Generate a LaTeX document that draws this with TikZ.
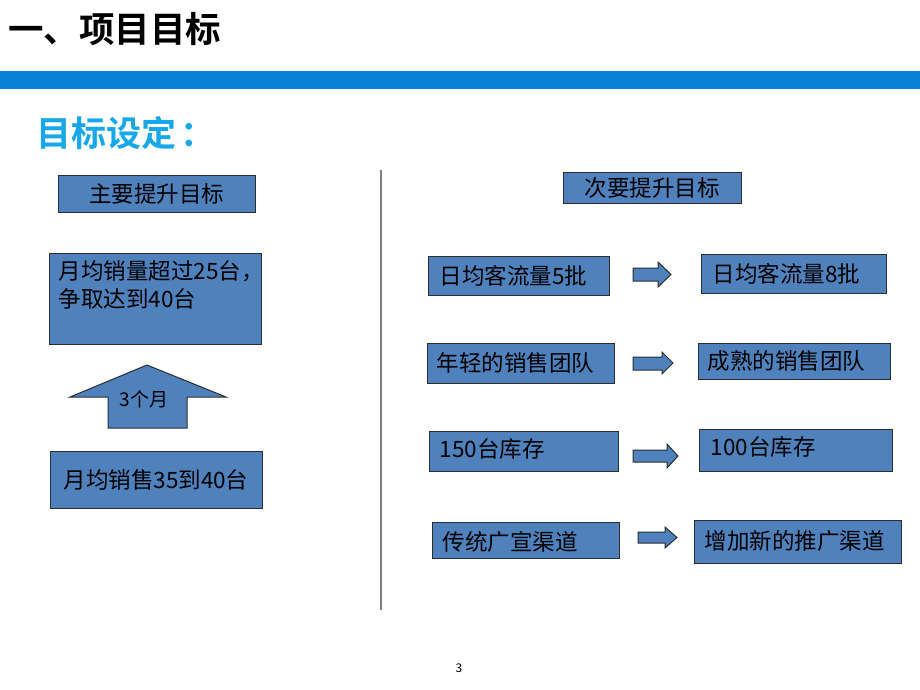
\documentclass[tikz,border=0pt]{standalone}
\usepackage{fontspec}
\newfontfamily\cjk{Noto Sans CJK SC}
\newfontfamily\cjkb{Noto Sans CJK SC Bold}
\definecolor{boxblue}{RGB}{79,129,189}
\definecolor{barblue}{RGB}{8,130,214}
\definecolor{subcyan}{RGB}{22,168,232}
\definecolor{edge}{RGB}{45,45,45}
\tikzset{
  box/.style={draw=edge, line width=1pt, fill=boxblue, inner sep=0pt},
  txt/.style={font=\cjk\fontsize{22.5}{28}\selectfont, text=black, inner sep=0pt, align=left},
  blockarrow/.style={draw=edge, line width=1pt, fill=boxblue, line join=miter},
}
\begin{document}
\begin{tikzpicture}[x=1pt,y=-1pt]
\useasboundingbox (0,0) rectangle (920,690);
% title
\node[anchor=west, inner sep=0pt, font=\cjkb\fontsize{35.5}{35.5}\selectfont] (title) at (8,29) {一、项目目标};
\fill[barblue] (0,71) rectangle (920,89);
\node[anchor=west, inner sep=0pt, text=subcyan, font=\cjkb\fontsize{35}{35}\selectfont] (sub) at (36,133) {目标设定\hspace{4pt}：};
% divider
\coordinate (vtop) at (381,170);
\coordinate (vbot) at (381,610);
\draw[gray, line width=1.2pt] (vtop) -- (vbot);
% left column
\node[box, minimum width=197pt, minimum height=37pt] (l1) at (156.5,193.5) {};
\node[txt] (l1t) at (l1.center) {主要提升目标};
\node[box, minimum width=212pt, minimum height=91pt] (l2) at (155,298.5) {};
\node[txt, anchor=north west] (l2t) at ([xshift=10pt,yshift=-8pt]l2.north west) {月均销量超过25台，\\争取达到40台};
\node[box, minimum width=212pt, minimum height=57pt] (l3) at (156,479.5) {};
\node[txt] (l3t) at (l3.center) {月均销售35到40台};
\draw[blockarrow] (108,428) -- (108,397) -- (70,397) -- (147,365) -- (226,397) -- (187,397) -- (187,428) -- cycle;
\node[txt, font=\cjk\fontsize{19}{19}\selectfont] (m3) at (144,399) {3个月};
% right column
\node[box, minimum width=178pt, minimum height=31pt] (rh) at (652,187.5) {};
\node[txt] (rht) at (rh.center) {次要提升目标};
% row 1
\node[box, minimum width=181pt, minimum height=39pt] (r1l) at (518.5,275.5) {};
\node[txt, anchor=west] (r1lt) at ([xshift=12pt]r1l.west) {日均客流量5批};
\node[box, minimum width=185pt, minimum height=39pt] (r1r) at (793.5,273.5) {};
\node[txt, anchor=west] (r1rt) at ([xshift=12pt]r1r.west) {日均客流量8批};
\draw[blockarrow] (633,268) -- (658,268) -- (658,262) -- (671,274.5) -- (658,287) -- (658,281) -- (633,281) -- cycle;
% row 2
\node[box, minimum width=187pt, minimum height=40pt] (r2l) at (520.5,363) {};
\node[txt, anchor=west] (r2lt) at ([xshift=10pt]r2l.west) {年轻的销售团队};
\node[box, minimum width=192pt, minimum height=36pt] (r2r) at (794,361) {};
\node[txt, anchor=west] (r2rt) at ([xshift=10pt]r2r.west) {成熟的销售团队};
\draw[blockarrow] (633,357) -- (662,357) -- (662,352) -- (673,363) -- (662,374) -- (662,370) -- (633,370) -- cycle;
% row 3
\node[box, minimum width=189pt, minimum height=40pt] (r3l) at (523.5,451) {};
\node[txt, anchor=west] (r3lt) at ([xshift=11pt,yshift=2pt]r3l.west) {150台库存};
\node[box, minimum width=193pt, minimum height=42pt] (r3r) at (795.5,450) {};
\node[txt, anchor=west] (r3rt) at ([xshift=12pt,yshift=3pt]r3r.west) {100台库存};
\draw[blockarrow] (633,450) -- (667,450) -- (667,444) -- (678,456) -- (667,468) -- (667,462) -- (633,462) -- cycle;
% row 4
\node[box, minimum width=187pt, minimum height=36pt] (r4l) at (525.5,540) {};
\node[txt, anchor=west] (r4lt) at ([xshift=11pt,yshift=-2pt]r4l.west) {传统广宣渠道};
\node[box, minimum width=207pt, minimum height=43pt] (r4r) at (797.5,541.5) {};
\node[txt, anchor=west] (r4rt) at ([xshift=11pt]r4r.west) {增加新的推广渠道};
\draw[blockarrow] (638,532) -- (665,532) -- (665,527) -- (677,537.5) -- (665,548) -- (665,543) -- (638,543) -- cycle;
% page number
\node[inner sep=0pt, font=\cjk\fontsize{12}{12}\selectfont] (pg) at (459,668) {3};
\end{tikzpicture}
\end{document}
